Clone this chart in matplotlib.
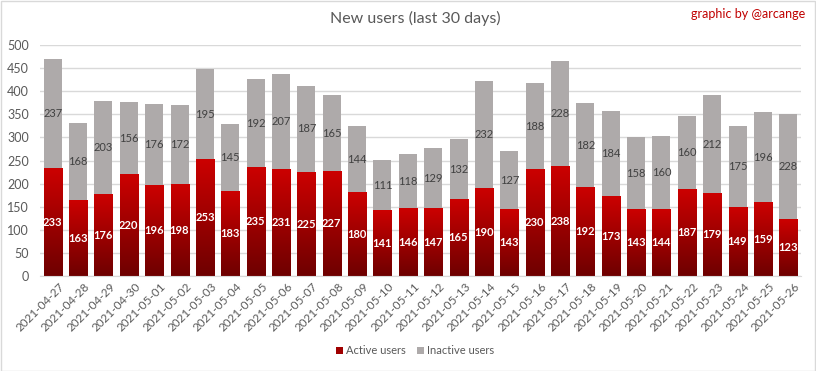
import matplotlib
matplotlib.use("Agg")
import matplotlib.pyplot as plt
import numpy as np
from matplotlib.colors import LinearSegmentedColormap
from matplotlib.patches import Patch
import matplotlib.transforms as mtransforms

dates = ["2021-04-27", "2021-04-28", "2021-04-29", "2021-04-30", "2021-05-01",
         "2021-05-02", "2021-05-03", "2021-05-04", "2021-05-05", "2021-05-06",
         "2021-05-07", "2021-05-08", "2021-05-09", "2021-05-10", "2021-05-11",
         "2021-05-12", "2021-05-13", "2021-05-14", "2021-05-15", "2021-05-16",
         "2021-05-17", "2021-05-18", "2021-05-19", "2021-05-20", "2021-05-21",
         "2021-05-22", "2021-05-23", "2021-05-24", "2021-05-25", "2021-05-26"]
active = [233, 163, 176, 220, 196, 198, 253, 183, 235, 231, 225, 227, 180, 141, 146,
          147, 165, 190, 143, 230, 238, 192, 173, 143, 144, 187, 179, 149, 159, 123]
inactive = [237, 168, 203, 156, 176, 172, 195, 145, 192, 207, 187, 165, 144, 111, 118,
            129, 132, 232, 127, 188, 228, 182, 184, 158, 160, 160, 212, 175, 196, 228]

plt.rcParams['font.family'] = ['Lato', 'DejaVu Sans']

W, H = 816, 371
fig = plt.figure(figsize=(W / 100, H / 100), dpi=100)
ax = fig.add_axes([40 / W, (H - 276) / H, (801 - 40) / W, (276 - 45) / H])

x = np.arange(len(dates))
bw = 0.71
gray = "#AEAAAA"
red_top = "#CC0000"
red_bot = "#6E0000"
cmap = LinearSegmentedColormap.from_list("rg", [red_bot, red_top])
grad = np.linspace(0, 1, 256).reshape(-1, 1)

ax.bar(x, inactive, bw, bottom=active, color=gray, zorder=2)
bars = ax.bar(x, active, bw, color="none", zorder=2)
for b in bars:
    x0, w, h = b.get_x(), b.get_width(), b.get_height()
    ax.imshow(grad, cmap=cmap, origin="lower", aspect="auto",
              extent=[x0, x0 + w, 0, h], zorder=2, interpolation="bilinear")

for i in range(len(x)):
    ax.text(x[i], active[i] / 2, str(active[i]), ha="center", va="center",
            color="white", fontsize=8, fontweight="bold", zorder=3)
    ax.text(x[i], active[i] + inactive[i] / 2, str(inactive[i]), ha="center",
            va="center", color="#404040", fontsize=8, zorder=3)

ax.set_xlim(-0.5, len(x) - 0.5)
ax.set_ylim(0, 500)
ax.set_yticks(np.arange(0, 501, 50))
ax.yaxis.grid(True, color="#D9D9D9", linewidth=1)
ax.set_axisbelow(True)
for s in ["top", "right", "left"]:
    ax.spines[s].set_visible(False)
ax.spines["bottom"].set_color("#D9D9D9")
ax.tick_params(axis="both", length=0, colors="#595959", labelsize=9)
ax.tick_params(axis="y", pad=8)
ax.set_xticks(x)
ax.set_xticklabels(dates, rotation=45, ha="right", rotation_mode="anchor",
                   fontsize=8.5, color="#595959")
offset = mtransforms.ScaledTranslation(6 / 100, 0, fig.dpi_scale_trans)
for lab in ax.get_xticklabels():
    lab.set_transform(lab.get_transform() + offset)

fig.text(415 / W, 1 - 18 / H, "New users (last 30 days)", ha="center", va="center",
         fontsize=11.5, color="#595959")
fig.text(805 / W, 1 - 14 / H, "graphic by @arcange", ha="right", va="center",
         fontsize=9, color="#C00000")

handles = [Patch(facecolor="#A00000", label="Active users"),
           Patch(facecolor=gray, label="Inactive users")]
fig.legend(handles=handles, loc="center", bbox_to_anchor=(415 / W, 1 - 351 / H),
           ncol=2, frameon=False, fontsize=8, labelcolor="#595959",
           handlelength=0.6, handleheight=0.6, handletextpad=0.3, columnspacing=1.0)

border = plt.Rectangle((0.5 / W, 0.5 / H), 1 - 1.5 / W, 1 - 1.5 / H, transform=fig.transFigure,
                       fill=False, edgecolor="#D9D9D9", linewidth=1)
fig.patches.append(border)

fig.savefig("out.png", dpi=100, facecolor="white")
